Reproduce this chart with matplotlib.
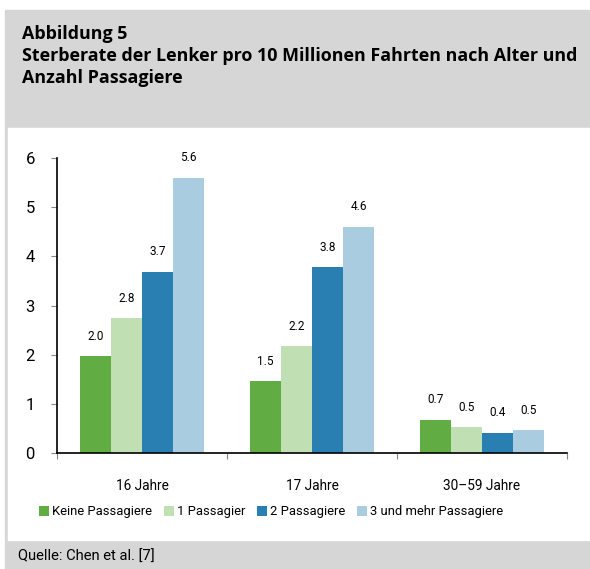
import numpy as np
import matplotlib
matplotlib.use("Agg")
import matplotlib.pyplot as plt
from matplotlib.patches import Rectangle

# data
categories = ["16 Jahre", "17 Jahre", "30\u201359 Jahre"]
series = ["Keine Passagiere", "1 Passagier", "2 Passagiere", "3 und mehr Passagiere"]
keine = [1.97, 1.46, 0.67]
eins = [2.74, 2.17, 0.52]
zwei = [3.68, 3.78, 0.41]
drei = [5.60, 4.60, 0.46]
labels = [["2.0", "1.5", "0.7"],
          ["2.8", "2.2", "0.5"],
          ["3.7", "3.8", "0.4"],
          ["5.6", "4.6", "0.5"]]
yticks = [0, 1, 2, 3, 4, 5, 6]

colors = ["#62ad43", "#c0dfb2", "#297eb2", "#a9cce0"]
grey = "#d6d6d6"
body = ["Roboto", "DejaVu Sans"]
head = ["Open Sans", "DejaVu Sans"]

W, H = 590, 569
fig = plt.figure(figsize=(W / 100, H / 100), dpi=100)

# grey frame with white panel
fig.patches.append(Rectangle((5 / W, 0), 1 - 5 / W, 1 - 10 / H, transform=fig.transFigure,
                             color=grey, zorder=-2))
fig.patches.append(Rectangle((8 / W, 29 / H), 1 - 8 / W, (540 - 128) / H, transform=fig.transFigure,
                             color="white", zorder=-1))

tsize = 12.9
fig.text(22 / W, 1 - 34 / H, "Abbildung 5", family=head, weight="bold", fontsize=tsize, va="center")
fig.text(22 / W, 1 - 56 / H, "Sterberate der Lenker pro 10 Millionen Fahrten nach Alter und",
         family=head, weight="bold", fontsize=tsize, va="center")
fig.text(22 / W, 1 - 78 / H, "Anzahl Passagiere", family=head, weight="bold", fontsize=tsize, va="center")
fig.text(18 / W, 1 - 557 / H, "Quelle: Chen et al. [7]", family=body, fontsize=10.6, va="center")

ax = fig.add_axes([57 / W, 1 - 453 / H, (567 - 57) / W, (453 - 158) / H])
ax.set_facecolor("none")

x = np.arange(len(categories))
w = 0.73 / 4
for i, vals in enumerate([keine, eins, zwei, drei]):
    pos = x + (i - 1.5) * w
    ax.bar(pos, vals, width=w, color=colors[i], label=series[i])
    for px, v, lab in zip(pos, vals, labels[i]):
        ax.annotate(lab, (px, v), xytext=(0, 14.5), textcoords="offset points",
                    ha="center", va="center", family=body, fontsize=8.5)

ax.set_xlim(-0.5, 2.5)
ax.set_ylim(0, 6)
ax.set_yticks(yticks)
ax.set_xticks([-0.5, 0.5, 1.5, 2.5])
ax.set_xticklabels([])
ax.set_xticks(x, minor=True)
ax.set_xticklabels(categories, minor=True, family=body, fontsize=9.8)
ax.tick_params(axis="x", which="minor", length=0, pad=19)
ax.tick_params(axis="x", which="major", length=4, color="#888888", direction="out")
ax.tick_params(axis="y", length=4, color="#888888", pad=12, labelsize=12)
for t in ax.get_yticklabels():
    t.set_family(body)
for s in ["top", "right"]:
    ax.spines[s].set_visible(False)
ax.spines["left"].set_linewidth(1.2)
ax.spines["bottom"].set_linewidth(1.2)

fig.legend(loc="center left", bbox_to_anchor=(34 / W, 1 - 512 / H), ncol=4, frameon=False,
           prop={"family": body, "size": 9.4}, handlelength=0.75, handleheight=0.75,
           handletextpad=0.25, columnspacing=0.9, borderaxespad=0)

fig.savefig("out.png", dpi=100)
